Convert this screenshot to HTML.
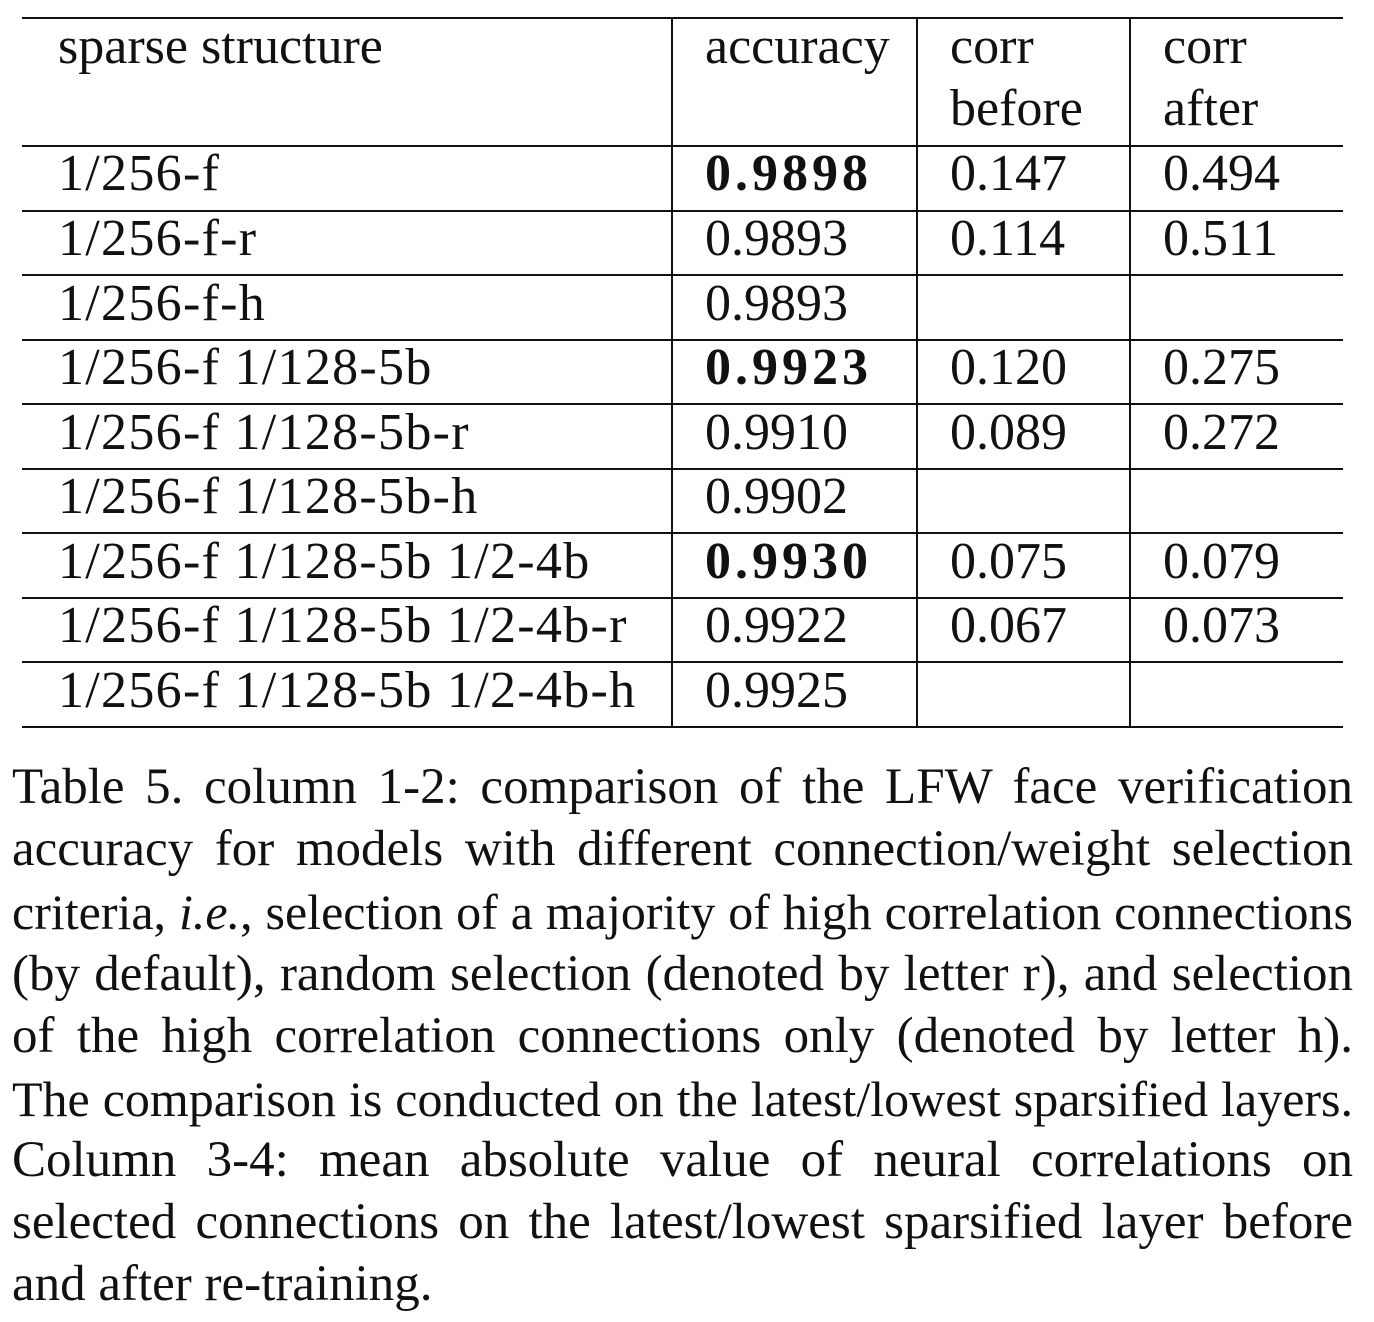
<!DOCTYPE html>
<html><head><meta charset="utf-8"><style>
html,body{margin:0;padding:0;background:#fff;}
body{width:1374px;height:1322px;position:relative;overflow:hidden;font-family:"Liberation Serif",serif;color:#111;}
.t{position:absolute;font-size:52px;line-height:52px;white-space:nowrap;}
.b{font-weight:bold;letter-spacing:4px;}
.s{letter-spacing:1.3px;}
.h{position:absolute;height:2px;background:#111;left:22px;width:1321px;}
.v{position:absolute;width:2px;background:#111;top:18px;height:710px;}
.c{position:absolute;left:12px;width:1341px;line-height:1;text-align:justify;text-align-last:justify;white-space:nowrap;}
.c.l{text-align-last:left;}
.m{display:inline-block;white-space:nowrap;}
</style></head><body>
<div id="tbl"></div>
<div id="cap"></div>
<script>
const header=[["sparse structure",""],["accuracy",""],["corr","before"],["corr","after"]];
const structures=["1/256-f","1/256-f-r","1/256-f-h","1/256-f 1/128-5b","1/256-f 1/128-5b-r","1/256-f 1/128-5b-h","1/256-f 1/128-5b 1/2-4b","1/256-f 1/128-5b 1/2-4b-r","1/256-f 1/128-5b 1/2-4b-h"];
const accuracy=["0.9898","0.9893","0.9893","0.9923","0.9910","0.9902","0.9930","0.9922","0.9925"];
const boldRows=[0,3,6];
const corrBefore=["0.147","0.114","","0.120","0.089","","0.075","0.067",""];
const corrAfter=["0.494","0.511","","0.275","0.272","","0.079","0.073",""];
const captionLines=["Table 5. column 1-2: comparison of the LFW face verification","accuracy for models with different connection/weight selection","criteria, <i>i.e.</i>, selection of a majority of high correlation connections","(by default), random selection (denoted by letter r), and selection","of the high correlation connections only (denoted by letter h).","The comparison is conducted on the latest/lowest sparsified layers.","Column 3-4: mean absolute value of neural correlations on","selected connections on the latest/lowest sparsified layer before","and after re-training."];
const tbl=document.getElementById('tbl');
const colX=[58,705,950,1163];
const fs=52;
function txt(s,x,base,cls,name){
  const d=document.createElement('div');
  d.className='t '+cls;
  d.style.left=x+'px';d.style.top=(base-0.8375*fs)+'px';
  d.textContent=s;
  
  
  tbl.appendChild(d);
}
function hline(y,name){
  const d=document.createElement('div');d.className='h';d.style.top=(y-1)+'px';
  
  
  tbl.appendChild(d);
}
[672,917,1130].forEach(x=>{
  const d=document.createElement('div');d.className='v';d.style.left=(x-1)+'px';
  
  
  tbl.appendChild(d);
});
hline(18,'table-top-rule');
header.forEach((h,i)=>{txt(h[0],colX[i],65,'','header-cell');if(h[1])txt(h[1],colX[i],127,'','header-cell');});
const rowTop=146,rowH=64.55;
hline(rowTop,'header-rule');
structures.forEach((s,i)=>{
  const top=rowTop+rowH*i, base=top+46;
  txt(s,colX[0],base,'s','structure-cell');
  txt(accuracy[i],colX[1],base,boldRows.includes(i)?'b':'','accuracy-cell');
  if(corrBefore[i])txt(corrBefore[i],colX[2],base,'','corr-before-cell');
  if(corrAfter[i])txt(corrAfter[i],colX[3],base,'','corr-after-cell');
  hline(top+rowH,'row-rule');
});
const cap=document.getElementById('cap');
captionLines.forEach((l,i)=>{
  const d=document.createElement('div');
  d.className='c'+(i===captionLines.length-1?' l':'');
  const base=805+62.1*i;
  let f=51;
  const probe=document.createElement('span');probe.className='m';probe.innerHTML=l;
  probe.style.fontSize=f+'px';
  document.body.appendChild(probe);
  while(probe.getBoundingClientRect().width>1338&&f>30){f-=0.5;probe.style.fontSize=f+'px';}
  probe.remove();
  d.style.fontSize=f+'px';
  d.style.top=(base-0.8375*f)+'px';
  d.innerHTML=l;
  
  
  cap.appendChild(d);
});
</script>
</body></html>
